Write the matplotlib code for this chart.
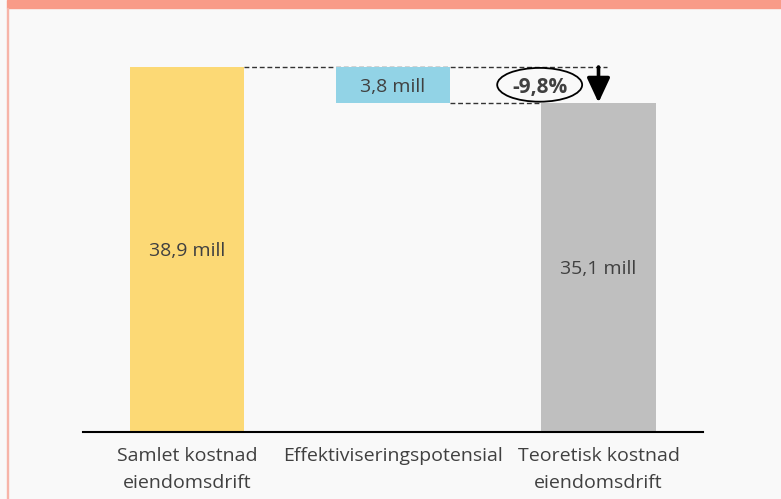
import matplotlib.pyplot as plt
from matplotlib.patches import Rectangle, Ellipse

categories = ["Samlet kostnad\neiendomsdrift", "Effektiviseringspotensial", "Teoretisk kostnad\neiendomsdrift"]
start_value = 38.9
reduction = 3.8
end_value = 35.1
bar_labels = ["38,9 mill", "3,8 mill", "35,1 mill"]
change_label = "-9,8%"

colors = ["#FCD975", "#92D3E6", "#BFBFBF"]
text_color = "#404040"
bg = "#F9F9F9"
salmon = "#F99B88"

plt.rcParams['font.family'] = ['Open Sans', 'DejaVu Sans']

fig = plt.figure(figsize=(7.81, 4.99), dpi=100, facecolor=bg)
W, H = 781, 499

# frame: top band and thin left line
fig.patches.append(Rectangle((7 / W, 1 - 8 / H), 1, 8 / H, transform=fig.transFigure,
                             color=salmon, zorder=0))
fig.patches.append(Rectangle((7 / W, 0), 1.2 / W, 1 - 8 / H, transform=fig.transFigure,
                             color="#F7B4A8", zorder=0))

ax = fig.add_axes([83 / W, (H - 432) / H, 620 / W, (432 - 30) / H])
ax.set_facecolor(bg)

x = [0, 1, 2]
bottoms = [0, end_value, 0]
heights = [start_value, reduction, end_value]
width = 0.555
ax.bar(x, heights, bottom=bottoms, width=width, color=colors, zorder=2)

for i, lab in enumerate(bar_labels):
    ax.text(x[i], bottoms[i] + heights[i] / 2, lab, ha='center', va='center_baseline',
            fontsize=14, color=text_color, zorder=3)

# connector lines
ax.plot([x[0] + width / 2, 2.042], [start_value, start_value], ls=(0, (3.5, 2)),
        color="#333333", lw=1, zorder=1)
ax.plot([x[1] + width / 2, x[2] - width / 2], [end_value, end_value], ls=(0, (3.5, 2)),
        color="#333333", lw=1, zorder=1)

# percentage bubble and arrow
mid = (start_value + end_value) / 2
ax.add_patch(Ellipse((1.714, mid), 0.413, 3.6,
                     facecolor=bg, edgecolor='black', lw=1.3, zorder=4))
ax.text(1.714, mid, change_label, ha='center', va='center_baseline',
        fontsize=15, fontweight='bold', color=text_color, zorder=5)
ax.annotate("", xy=(2.0, end_value), xytext=(2.0, start_value),
            arrowprops=dict(arrowstyle='-|>,head_width=0.35,head_length=0.75',
                            mutation_scale=20, color='black', lw=2.6,
                            shrinkA=0, shrinkB=0), zorder=5)

ax.set_xlim(-0.506, 2.508)
ax.set_ylim(0, 42.84)
ax.set_xticks(x)
ax.set_xticklabels(categories, fontsize=14, color=text_color, linespacing=1.68)
ax.tick_params(axis='x', length=0, pad=10.5)
ax.set_yticks([])
for s in ['top', 'right', 'left']:
    ax.spines[s].set_visible(False)
ax.spines['bottom'].set_linewidth(1.5)
ax.spines['bottom'].set_color('black')

fig.savefig("out.png", dpi=100, facecolor=bg)
